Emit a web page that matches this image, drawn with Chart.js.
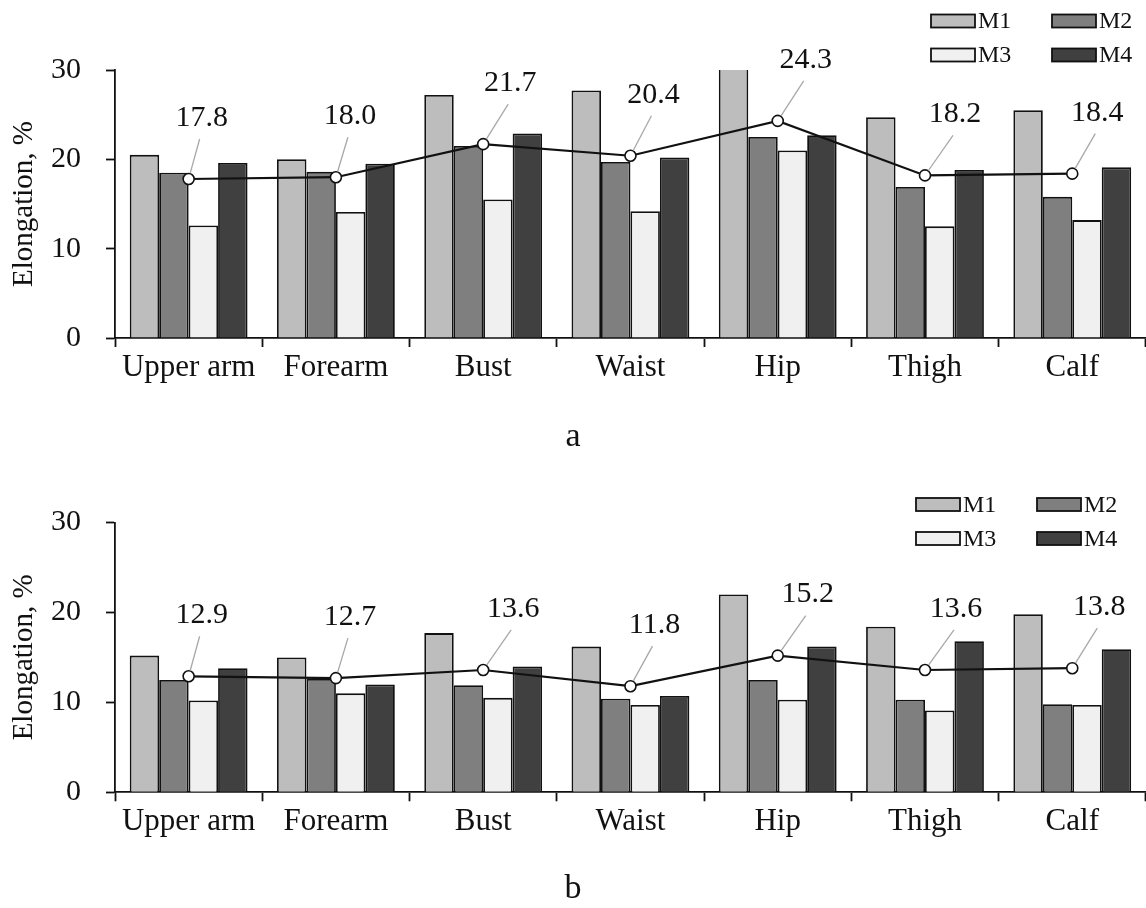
<!DOCTYPE html>
<html lang="en">
<head>
    <meta charset="UTF-8">
    <title>Elongation by body part</title>
    <script src="https://cdn.jsdelivr.net/npm/chart.js"></script>
    <style>
        body {
            margin: 0;
            background: #fff;
            width: 1146px;
            height: 908px;
            overflow: hidden;
            position: relative;
            font-family: 'Liberation Serif', 'Times New Roman', serif;
        }
        canvas {
            position: absolute;
            left: 0;
        }
        #chartA { top: 0; }
        #chartB { top: 460px; }
        .caption {
            position: absolute;
            left: 0;
            width: 1146px;
            text-align: center;
            font-size: 34px;
            line-height: 40px;
            color: #111;
        }
    </style>
</head>
<body>
    <!-- canvases run a few px past the window so the last category reaches the right edge -->
    <canvas id="chartA" width="1153" height="460"></canvas>
    <canvas id="chartB" width="1153" height="448"></canvas>
    <div class="caption" style="top: 415px;">a</div>
    <div class="caption" style="top: 867px;">b</div>

    <script>
        const categories = ['Upper arm', 'Forearm', 'Bust', 'Waist', 'Hip', 'Thigh', 'Calf'];
        const seriesNames = ['M1', 'M2', 'M3', 'M4'];
        const yTicks = [0, 10, 20, 30];

        // panel a
        const m1A = [20.5, 20.0, 27.2, 27.7, 30.5, 24.7, 25.5];
        const m2A = [18.5, 18.6, 21.5, 19.7, 22.5, 16.9, 15.8];
        const m3A = [12.6, 14.1, 15.5, 14.2, 21.0, 12.5, 13.2];
        const m4A = [19.6, 19.5, 22.9, 20.2, 22.7, 18.8, 19.1];
        const meanA = [17.8, 18.0, 21.7, 20.4, 24.3, 18.2, 18.4];

        // panel b
        const m1B = [15.2, 15.0, 17.7, 16.2, 22.0, 18.4, 19.8];
        const m2B = [12.5, 12.6, 11.9, 10.4, 12.5, 10.3, 9.8];
        const m3B = [10.2, 11.0, 10.5, 9.7, 10.3, 9.1, 9.7];
        const m4B = [13.8, 12.0, 14.0, 10.7, 16.2, 16.8, 15.9];
        const meanB = [12.9, 12.7, 13.6, 11.8, 15.2, 13.6, 13.8];

        const barColors = ['#bdbdbd', '#7f7f7f', '#f0f0f0', '#404040'];
        const ink = '#111';
        const serif = "'Liberation Serif', 'Times New Roman', serif";

        // averages: leader line + number above each point
        const meanLabels = {
            id: 'meanLabels',
            afterDatasetsDraw(chart, args, opts) {
                const ctx = chart.ctx;
                const idx = chart.data.datasets.findIndex(d => d.type === 'line');
                const meta = chart.getDatasetMeta(idx);
                const values = chart.data.datasets[idx].data;
                ctx.save();
                meta.data.forEach((pt, i) => {
                    const lx = pt.x + opts.shift[i];
                    const ly = pt.y - opts.rise;
                    const ex = lx - 2, ey = ly + 21;
                    const ang = Math.atan2(ey - pt.y, ex - pt.x);
                    ctx.strokeStyle = '#a8a8a8';
                    ctx.lineWidth = 1.3;
                    ctx.beginPath();
                    ctx.moveTo(pt.x + Math.cos(ang) * 6, pt.y + Math.sin(ang) * 6);
                    ctx.lineTo(ex, ey);
                    ctx.stroke();
                    ctx.fillStyle = ink;
                    ctx.font = '30px ' + serif;
                    ctx.textAlign = 'center';
                    ctx.textBaseline = 'middle';
                    ctx.fillText(values[i].toFixed(1), lx, ly);
                });
                ctx.restore();
            }
        };

        // 2 x 2 legend in the top right corner
        const gridLegend = {
            id: 'gridLegend',
            afterDraw(chart, args, opts) {
                const ctx = chart.ctx;
                ctx.save();
                chart.data.datasets.filter(d => d.type !== 'line').forEach((ds, i) => {
                    const x = opts.x + (i % 2) * opts.colGap;
                    const y = opts.y + Math.floor(i / 2) * opts.rowGap;
                    ctx.fillStyle = ds.backgroundColor;
                    ctx.fillRect(x, y - 6.5, 44, 13);
                    ctx.strokeStyle = ink;
                    ctx.lineWidth = 1.8;
                    ctx.strokeRect(x, y - 6.5, 44, 13);
                    ctx.fillStyle = ink;
                    ctx.font = '24px ' + serif;
                    ctx.textAlign = 'left';
                    ctx.textBaseline = 'middle';
                    ctx.fillText(ds.label, x + 47, y + 1);
                });
                ctx.restore();
            }
        };

        function makeChart(id, bars, mean, padTop, xHeight, padBottom, legendPos, shift) {
            const datasets = bars.map((vals, i) => ({
                type: 'bar',
                label: seriesNames[i],
                data: vals,
                backgroundColor: barColors[i],
                borderColor: ink,
                borderWidth: 1.8,
                categoryPercentage: 0.8,
                barPercentage: 1.0,
                order: 1
            }));
            datasets.push({
                type: 'line',
                label: 'Mean',
                data: mean,
                borderColor: ink,
                borderWidth: 2.2,
                pointRadius: 5.5,
                pointBackgroundColor: '#fff',
                pointBorderColor: ink,
                pointBorderWidth: 1.6,
                order: 0
            });

            return new Chart(document.getElementById(id), {
                data: { labels: categories, datasets: datasets },
                options: {
                    responsive: false,
                    animation: false,
                    layout: { padding: { top: padTop, left: 0, right: 0, bottom: padBottom } },
                    scales: {
                        x: {
                            grid: {
                                drawOnChartArea: false,
                                tickLength: 9,
                                tickColor: ink,
                                tickWidth: 1.8,
                                offset: true
                            },
                            border: { color: ink, width: 1.8 },
                            ticks: {
                                font: { family: serif, size: 31 },
                                color: ink,
                                padding: 2,
                                autoSkip: false,
                                maxRotation: 0
                            },
                            afterFit(scale) { scale.height = xHeight; }
                        },
                        y: {
                            min: 0,
                            max: 30,
                            grid: {
                                drawOnChartArea: false,
                                tickLength: 9,
                                tickColor: ink,
                                tickWidth: 1.8
                            },
                            border: { color: ink, width: 1.8 },
                            ticks: {
                                font: { family: serif, size: 30 },
                                color: ink,
                                padding: 25
                            },
                            afterBuildTicks(scale) {
                                scale.ticks = yTicks.map(v => ({ value: v }));
                            },
                            title: {
                                display: true,
                                text: 'Elongation, %',
                                font: { family: serif, size: 29 },
                                color: ink,
                                padding: { top: 7, bottom: 0 }
                            },
                            afterFit(scale) { scale.width = 115; }
                        }
                    },
                    plugins: {
                        legend: { display: false },
                        tooltip: { enabled: false },
                        meanLabels: { shift: shift, rise: 61 },
                        gridLegend: legendPos
                    }
                },
                plugins: [meanLabels, gridLegend]
            });
        }

        makeChart('chartA', [m1A, m2A, m3A, m4A], meanA, 70, 80, 42,
            { x: 931, y: 21, colGap: 121, rowGap: 34 },
            [13, 14, 27, 23, 28, 30, 25]);
        makeChart('chartB', [m1B, m2B, m3B, m4B], meanB, 62.5, 80, 35.7,
            { x: 916, y: 44.5, colGap: 121, rowGap: 34 },
            [13, 14, 30, 24, 30, 31, 27]);
    </script>
</body>
</html>
